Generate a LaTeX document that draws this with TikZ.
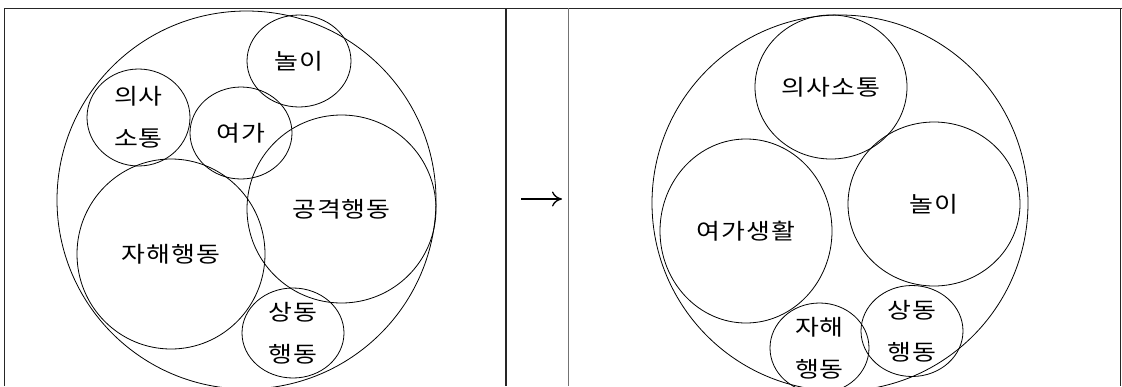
\documentclass[tikz,border=0pt]{standalone}
\usepackage{fontspec}
\newfontfamily\kr[FakeStretch=1.18, LetterSpace=4]{Noto Sans CJK KR}
\usetikzlibrary{shapes.geometric, arrows.meta}

\begin{document}
\begin{tikzpicture}[
    x=1pt, y=-1pt,
    bub/.style={ellipse, draw=black, line width=0.8pt, inner sep=0pt,
                align=center, font=\kr\fontsize{22pt}{42pt}\selectfont},
    cellline/.style={draw=black!85, line width=1.3pt},
    arr/.style={-{To[length=10pt,width=15pt]}, line width=1.3pt}
]

%% Page frame
\fill[white] (0,0) rectangle (1122,386);
\useasboundingbox (0,0) rectangle (1122,386);
\clip (0,0) rectangle (1122,386);

%% Table rules
\draw[cellline] (4.7,386) -- (4.7,8.3) -- (1122,8.3);
\draw[cellline] (506,8.3) -- (506,386);
\draw[cellline, draw=black!55] (568.7,8.3) -- (568.7,386);
\draw[cellline] (1120.5,8.3) -- (1120.5,386);

%% Before (left cell)
\node[bub, minimum width=379, minimum height=378] (outerA)   at (246.5,200) {};
\node[bub, minimum width=104, minimum height=92]  (playA)    at (299,61)    {놀이};
\node[bub, minimum width=103, minimum height=97]  (comA)     at (138.5,117.5) {의사\\소통};
\node[bub, minimum width=102, minimum height=92]  (leisureA) at (241,133)   {여가};
\node[bub, minimum width=189, minimum height=188] (aggrA)    at (341.5,209) {공격행동};
\node[bub, minimum width=188, minimum height=190] (selfA)    at (171,254)   {자해행동};
\node[bub, minimum width=102, minimum height=90]  (stereoA)  at (293,333)   {상동\\행동};

%% Arrow (middle cell)
\coordinate (arrS) at (521,199);
\coordinate (arrE) at (562,199);
\draw[arr] (arrS) -- (arrE);

%% After (right cell)
\node[bub, minimum width=376, minimum height=376] (outerB)   at (840,203)   {};
\node[bub, minimum width=152, minimum height=144] (comB)     at (831,87)    {의사소통};
\node[bub, minimum width=172, minimum height=164] (playB)    at (934,204)   {놀이};
\node[bub, minimum width=172, minimum height=184] (leisureB) at (746,231)   {여가생활};
\node[bub, minimum width=99,  minimum height=90]  (selfB)    at (819.5,348) {자해\\행동};
\node[bub, minimum width=102, minimum height=91]  (stereoB)  at (912,331)   {상동\\행동};

\end{tikzpicture}
\end{document}
